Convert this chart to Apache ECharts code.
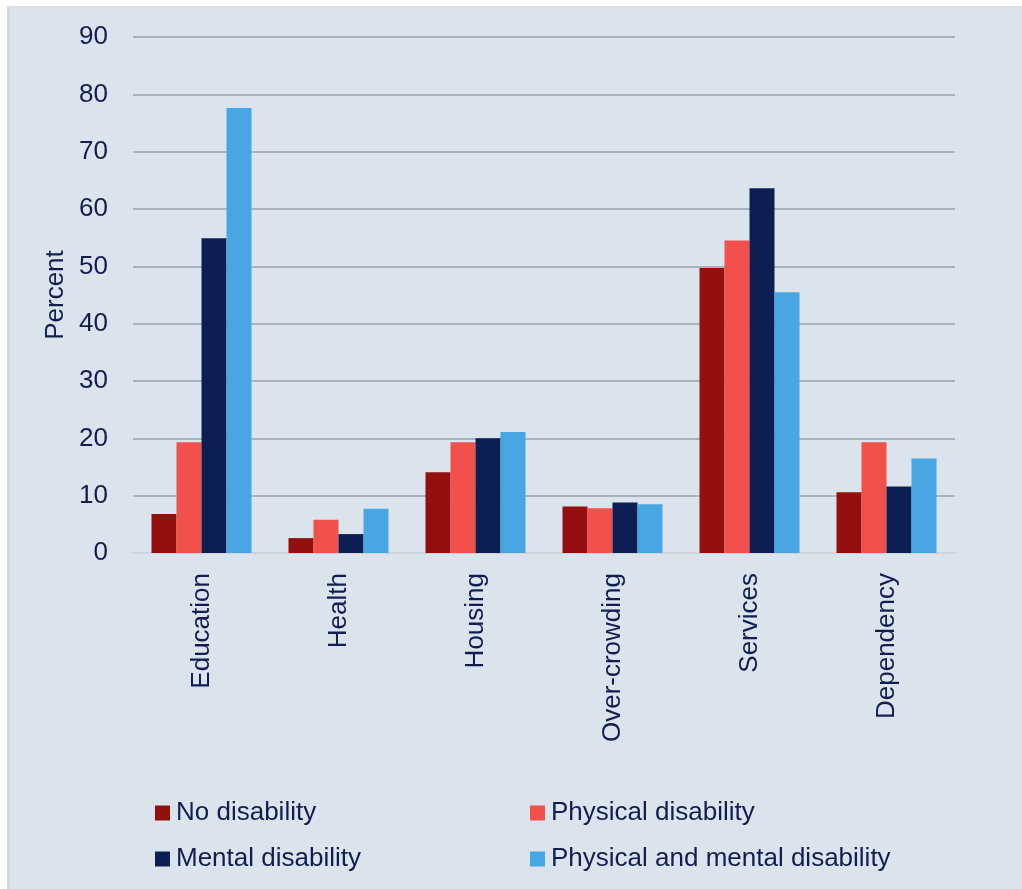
<!DOCTYPE html>
<html>
<head>
<meta charset="utf-8">
<title>Deprivation by disability status</title>
<script src="https://cdn.jsdelivr.net/npm/echarts@6/dist/echarts.min.js"></script>
<style>
  html, body { margin: 0; padding: 0; background: #ffffff; }
  #frame {
    position: absolute; left: 7px; top: 6px; width: 1012px; height: 881px;
    background: #DBE3EC; border-left: 3px solid #D5D7DA; border-top: 2px solid #DEDFE1;
  }
  #chart { position: absolute; left: 0; top: 0; width: 1022px; height: 889px; }
</style>
</head>
<body>
<div id="frame"></div>
<div id="chart"></div>
<script>
// Share of people deprived in each dimension, by disability status (percent)
const categories = ['Education', 'Health', 'Housing', 'Over-crowding', 'Services', 'Dependency'];
const noDisability = [6.8, 2.6, 14.1, 8.1, 49.7, 10.6];
const physicalDisability = [19.3, 5.8, 19.3, 7.8, 54.5, 19.3];
const mentalDisability = [54.9, 3.3, 20.0, 8.8, 63.6, 11.6];
const physicalAndMental = [77.6, 7.7, 21.1, 8.5, 45.5, 16.5];
const seriesNames = ['No disability', 'Physical disability', 'Mental disability', 'Physical and mental disability'];
const yTicks = { min: 0, max: 90, interval: 10 };

const navy = '#0E1F50';
const colors = ['#93100E', '#F2504B', '#0D1F52', '#48A7E2'];
const font = "'Liberation Sans', Arial, sans-serif";

const seriesData = [noDisability, physicalDisability, mentalDisability, physicalAndMental];

// Legend laid out as a 2x2 block, one component per entry so columns line up
const legendPos = [
  { left: 155, top: 800 },
  { left: 530, top: 800 },
  { left: 155, top: 846 },
  { left: 530, top: 846 }
];

const chart = echarts.init(document.getElementById('chart'), null, { renderer: 'canvas' });
chart.setOption({
  backgroundColor: 'transparent',
  animation: false,
  textStyle: { fontFamily: font },
  grid: { left: 133, right: 67, top: 37, bottom: 336, containLabel: false },
  legend: seriesNames.map((name, i) => ({
    data: [name],
    left: legendPos[i].left,
    top: legendPos[i].top,
    padding: 0,
    icon: 'rect',
    itemWidth: 15,
    itemHeight: 15,
    selectedMode: false,
    textStyle: { fontSize: 26, color: navy, fontFamily: font, padding: [0, 0, 0, 1] }
  })),
  xAxis: {
    type: 'category',
    data: categories,
    axisLine: { show: true, lineStyle: { color: '#CFD4D9', width: 2 } },
    axisTick: { show: false },
    axisLabel: { rotate: 90, margin: 20, fontSize: 26, color: navy, fontFamily: font }
  },
  yAxis: {
    type: 'value',
    min: yTicks.min,
    max: yTicks.max,
    interval: yTicks.interval,
    name: 'Percent',
    nameLocation: 'middle',
    nameRotate: 90,
    nameGap: 64,
    nameMoveOverlap: false,
    nameTextStyle: { fontSize: 26, color: navy, fontFamily: font },
    axisLine: { show: false },
    axisTick: { show: false },
    axisLabel: { margin: 25, fontSize: 26, color: navy, fontFamily: font },
    splitLine: { show: true, lineStyle: { color: '#A9B3BD', width: 2 } }
  },
  series: seriesNames.map((name, i) => ({
    name: name,
    type: 'bar',
    data: seriesData[i],
    barWidth: 25,
    barGap: '0%',
    itemStyle: { color: colors[i] },
    z: 3
  }))
});
</script>
</body>
</html>
